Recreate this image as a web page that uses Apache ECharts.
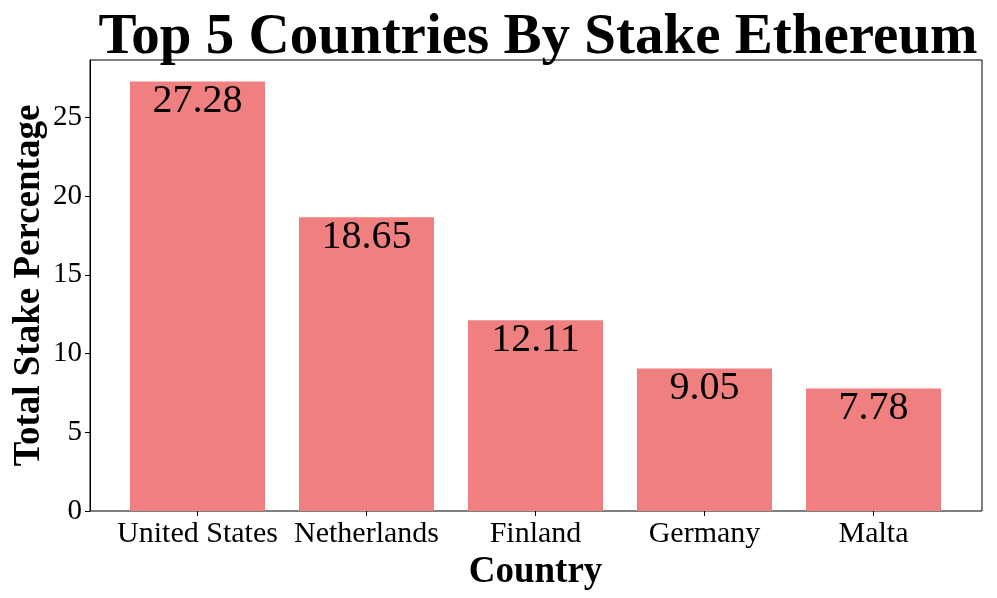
<!DOCTYPE html>
<html>
<head>
<meta charset="utf-8">
<script src="https://cdn.jsdelivr.net/npm/echarts@6/dist/echarts.min.js"></script>
<style>
  html, body { margin: 0; padding: 0; background: #fff; }
  #charts { width: 997px; height: 598px; }
</style>
</head>
<body>
<div id="charts"></div>
<script>
// data
var countries = ['United States', 'Netherlands', 'Finland', 'Germany', 'Malta'];
var stakePct = [27.28, 18.65, 12.11, 9.05, 7.78];
var yMax = 28.644; // matplotlib auto limit (max * 1.05)

var serif = '"Liberation Serif", "DejaVu Serif", serif';
var myChart = echarts.init(document.getElementById('charts'));

var option = {
    backgroundColor: '#fff',
    animation: false,
    title: {
        text: 'Top 5 Countries By Stake Ethereum',
        left: 533,
        textAlign: 'center',
        top: 5,
        textStyle: { fontFamily: serif, fontWeight: 'bold', fontSize: 57, color: '#000' }
    },
    grid: [
        // frame
        { left: 90, right: 15, top: 60, bottom: 87, show: true, borderColor: '#000', borderWidth: 1,
          outerBoundsMode: 'none', containLabel: false },
        // bars (category bands of matplotlib width)
        { left: 113, right: 39, top: 60, bottom: 87, outerBoundsMode: 'none', containLabel: false }
    ],
    xAxis: [
        { type: 'value', gridIndex: 0, min: 0, max: 1, show: false },
        {
            type: 'category', gridIndex: 1, data: countries,
            name: 'Country', nameLocation: 'middle', nameGap: 42,
            nameTextStyle: { fontFamily: serif, fontWeight: 'bold', fontSize: 37, color: '#000' },
            axisLine: { show: false },
            axisTick: { show: true, alignWithLabel: true, length: 5, lineStyle: { color: '#000' } },
            axisLabel: { fontFamily: serif, fontSize: 30, color: '#000', margin: 8, interval: 0 }
        }
    ],
    yAxis: [
        {
            type: 'value', gridIndex: 0, min: 0, max: yMax, interval: 5,
            name: 'Total Stake Percentage', nameLocation: 'middle', nameRotate: 90, nameGap: 42,
            nameMoveOverlap: false,
            nameTextStyle: { fontFamily: serif, fontWeight: 'bold', fontSize: 37, color: '#000' },
            axisLine: { show: true, lineStyle: { color: '#000' } },
            axisTick: { show: true, length: 5, lineStyle: { color: '#000' } },
            splitLine: { show: false },
            axisLabel: { fontFamily: serif, fontSize: 29, color: '#000', margin: 8, showMaxLabel: false }
        },
        { type: 'value', gridIndex: 1, min: 0, max: yMax, show: false }
    ],
    series: [{
        type: 'bar',
        xAxisIndex: 1,
        yAxisIndex: 1,
        data: stakePct,
        barWidth: 135,
        itemStyle: { color: '#F08080' },
        label: {
            show: true,
            position: 'insideTop',
            distance: 0,
            fontFamily: serif,
            fontSize: 40,
            color: '#000'
        }
    }]
};

myChart.setOption(option);
</script>
</body>
</html>
